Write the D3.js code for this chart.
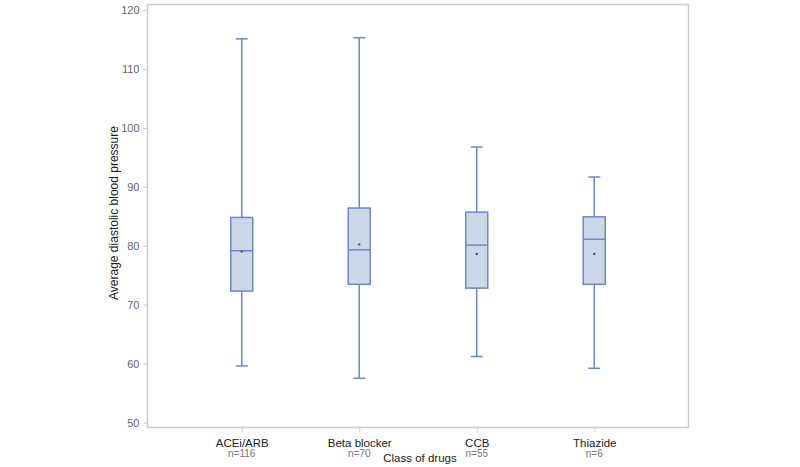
<!DOCTYPE html>
<html><head><meta charset="utf-8">
<script src="https://cdn.jsdelivr.net/npm/d3@7/dist/d3.min.js"></script>
<style>body{margin:0;background:#fff;} svg{display:block;}</style>
</head><body>
<svg id="chart" width="800" height="467"></svg>
<script>
const categories = ["ACEi/ARB", "Beta blocker", "CCB", "Thiazide"];
const counts = ["n=116", "n=70", "n=55", "n=6"];
const whiskerLow = [59.6, 57.5, 61.2, 59.2];
const q1 = [72.3, 73.45, 72.8, 73.45];
const medians = [79.15, 79.3, 80.1, 81.1];
const q3 = [84.8, 86.4, 85.7, 84.9];
const whiskerHigh = [115.1, 115.3, 96.75, 91.66];
const means = [79.0, 80.2, 78.6, 78.6];
const yTicks = [50, 60, 70, 80, 90, 100, 110, 120];

const svg = d3.select("#chart");
const frame = {left: 147.5, right: 688.5, top: 4.5, bottom: 427.5};
const y = d3.scaleLinear().domain([50, 120]).range([422.5, 10]);
const x = d3.scalePoint().domain(categories).range([frame.left, frame.right]).padding(0.802);

const stroke = "#6f86cf", fill = "#cdd7e7", grey = "#cccccc";
const font = "Liberation Sans, Arial, sans-serif";

svg.append("rect").attr("x", frame.left).attr("y", frame.top)
  .attr("width", frame.right - frame.left).attr("height", frame.bottom - frame.top)
  .attr("fill", "none").attr("stroke", grey).attr("stroke-width", 1.5);

const yAxis = svg.append("g").attr("transform", `translate(${frame.left},0)`)
  .call(d3.axisLeft(y).tickValues(yTicks).tickSize(4).tickPadding(4));
yAxis.select(".domain").remove();
yAxis.selectAll("line").attr("stroke", grey);
yAxis.selectAll("text").attr("fill", "#666").style("font-family", font).style("font-size", "11px");

const xAxis = svg.append("g").attr("transform", `translate(0,${frame.bottom})`)
  .call(d3.axisBottom(x).tickSize(5).tickPadding(6));
xAxis.select(".domain").remove();
xAxis.selectAll("line").attr("stroke", grey);
xAxis.selectAll("text").attr("fill", "#222").style("font-family", font).style("font-size", "11.5px");

svg.append("g").selectAll("text").data(categories).join("text")
  .attr("x", d => x(d)).attr("y", 457).attr("text-anchor", "middle")
  .attr("fill", "#777").style("font-family", font).style("font-size", "10px")
  .text((d, i) => counts[i]);

svg.append("text").attr("x", 420).attr("y", 462).attr("text-anchor", "middle")
  .attr("fill", "#222").style("font-family", font).style("font-size", "11.5px")
  .text("Class of drugs");

svg.append("text").attr("transform", "translate(118,213) rotate(-90)").attr("text-anchor", "middle")
  .attr("fill", "#222").style("font-family", font).style("font-size", "12px")
  .text("Average diastolic blood pressure");

const bw = 22, cap = 12;
const g = svg.append("g").selectAll("g").data(categories).join("g");
g.append("line").attr("x1", d => x(d)).attr("x2", d => x(d))
  .attr("y1", (d, i) => y(whiskerHigh[i])).attr("y2", (d, i) => y(q3[i])).attr("stroke", stroke).attr("stroke-width", 1.5);
g.append("line").attr("x1", d => x(d)).attr("x2", d => x(d))
  .attr("y1", (d, i) => y(q1[i])).attr("y2", (d, i) => y(whiskerLow[i])).attr("stroke", stroke).attr("stroke-width", 1.5);
g.append("line").attr("x1", d => x(d) - cap / 2).attr("x2", d => x(d) + cap / 2)
  .attr("y1", (d, i) => y(whiskerHigh[i])).attr("y2", (d, i) => y(whiskerHigh[i])).attr("stroke", stroke).attr("stroke-width", 1.5);
g.append("line").attr("x1", d => x(d) - cap / 2).attr("x2", d => x(d) + cap / 2)
  .attr("y1", (d, i) => y(whiskerLow[i])).attr("y2", (d, i) => y(whiskerLow[i])).attr("stroke", stroke).attr("stroke-width", 1.5);
g.append("rect").attr("x", d => x(d) - bw / 2).attr("width", bw)
  .attr("y", (d, i) => y(q3[i])).attr("height", (d, i) => y(q1[i]) - y(q3[i]))
  .attr("fill", fill).attr("stroke", stroke).attr("stroke-width", 1.5);
g.append("line").attr("x1", d => x(d) - bw / 2).attr("x2", d => x(d) + bw / 2)
  .attr("y1", (d, i) => y(medians[i])).attr("y2", (d, i) => y(medians[i])).attr("stroke", stroke).attr("stroke-width", 1.5);
g.append("circle").attr("cx", d => x(d)).attr("cy", (d, i) => y(means[i])).attr("r", 1.3).attr("fill", "#55608f");
</script>
</body></html>
